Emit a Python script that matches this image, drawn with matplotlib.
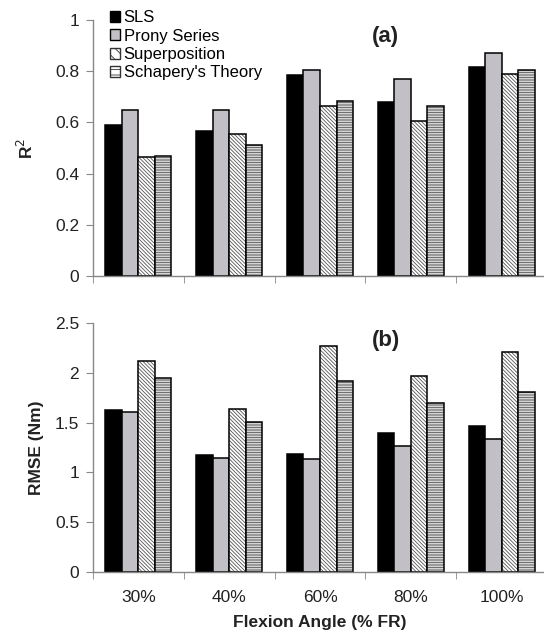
import numpy as np
import matplotlib.pyplot as plt
from matplotlib.patches import Patch

plt.rcParams['font.family'] = ['Liberation Sans', 'DejaVu Sans']
plt.rcParams['hatch.linewidth'] = 0.6

angles = ['30%', '40%', '60%', '80%', '100%']
series = ['SLS', 'Prony Series', 'Superposition', "Schapery's Theory"]

r2_sls = [0.59, 0.565, 0.785, 0.68, 0.815]
r2_prony = [0.65, 0.65, 0.805, 0.77, 0.87]
r2_super = [0.465, 0.555, 0.665, 0.605, 0.79]
r2_schap = [0.47, 0.51, 0.685, 0.665, 0.805]

rmse_sls = [1.63, 1.17, 1.18, 1.40, 1.47]
rmse_prony = [1.61, 1.14, 1.13, 1.26, 1.33]
rmse_super = [2.12, 1.64, 2.27, 1.97, 2.21]
rmse_schap = [1.95, 1.51, 1.92, 1.70, 1.81]

styles = [
    dict(color='black', hatch=None),
    dict(color='#c2c0c6', hatch=None),
    dict(color='white', hatch='\\' * 9),
    dict(color='white', hatch='-' * 10),
]

fig = plt.figure(figsize=(5.44, 6.4), dpi=100)
ax1 = fig.add_axes([0.1710, 0.56875, 0.8345, 0.4])
ax2 = fig.add_axes([0.1710, 0.1063, 0.8345, 0.3891])

x = np.arange(len(angles))
w = 0.182


def draw_panel(ax, data, ymax, step, letter, ly):
    for i, vals in enumerate(data):
        st = styles[i]
        pos = x + (i - 1.5) * w
        if st['hatch']:
            ax.bar(pos, vals, w, color='white', edgecolor='#555555',
                   linewidth=0, hatch=st['hatch'])
            ax.bar(pos, vals, w, fill=False, edgecolor='black', linewidth=1.1)
        else:
            ax.bar(pos, vals, w, color=st['color'], edgecolor='black', linewidth=1.1)
    ax.set_xlim(-0.5, 4.5)
    ax.set_ylim(0, ymax)
    ticks = np.arange(0, ymax + 1e-9, step)
    ax.set_yticks(ticks)
    ax.set_yticklabels(['%g' % v for v in ticks])
    ax.set_xticks(x)
    ax.set_xticks(np.arange(-0.5, 4.6, 1), minor=True)
    ax.tick_params(axis='x', which='major', length=0, labelsize=12.5,
                   colors='#222222', pad=13)
    ax.tick_params(axis='x', which='minor', length=5, color='#888888',
                   direction='out')
    ax.tick_params(axis='y', length=5, color='#888888', labelsize=12.5,
                   labelcolor='#222222', pad=5)
    for s in ['top', 'right']:
        ax.spines[s].set_visible(False)
    for s in ['left', 'bottom']:
        ax.spines[s].set_color('#888888')
        ax.spines[s].set_linewidth(1.0)
    ax.text(0.645, ly, letter, transform=ax.transAxes, ha='center',
            va='center', fontsize=16, fontweight='bold', color='#222222')


draw_panel(ax1, [r2_sls, r2_prony, r2_super, r2_schap], 1.0, 0.2, '(a)', 0.934)
draw_panel(ax2, [rmse_sls, rmse_prony, rmse_super, rmse_schap], 2.5, 0.5, '(b)', 0.93)

ax1.set_xticklabels([])
ax2.set_xticklabels(angles)

ax1.set_ylabel('R$^2$', fontsize=12.5, fontweight='bold', color='#222222', labelpad=14)
ax2.set_ylabel('RMSE (Nm)', fontsize=12.5, fontweight='bold', color='#222222', labelpad=8)
ax2.set_xlabel('Flexion Angle (% FR)', fontsize=12.5, fontweight='bold',
               color='#222222', labelpad=7)

handles = []
for i, name in enumerate(series):
    st = styles[i]
    if st['hatch']:
        handles.append(Patch(facecolor='white', edgecolor='#333333',
                             hatch=st['hatch'][:3], linewidth=1.0, label=name))
    else:
        handles.append(Patch(facecolor=st['color'], edgecolor='black',
                             linewidth=1.0, label=name))
ax1.legend(handles=handles, loc='upper left', bbox_to_anchor=(0.018, 1.07),
           frameon=False, fontsize=12, handlelength=0.65, handleheight=0.65,
           handletextpad=0.2, labelspacing=0.2, borderpad=0)

fig.savefig('out.png', dpi=100)
